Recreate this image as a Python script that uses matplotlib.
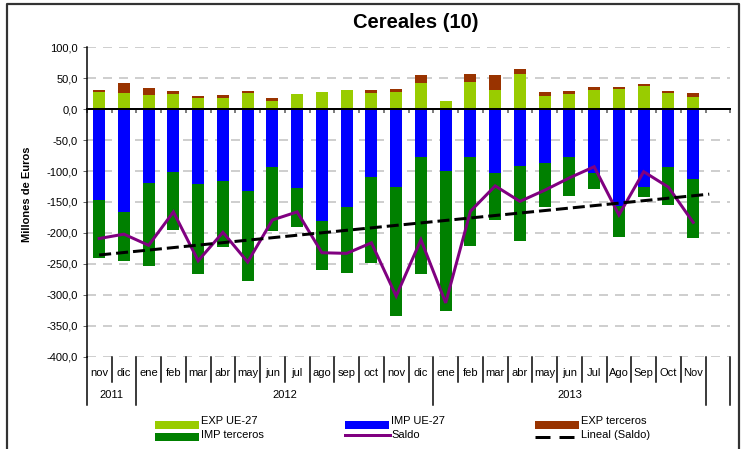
import matplotlib
matplotlib.use("Agg")
import matplotlib.pyplot as plt
import numpy as np
from matplotlib import transforms
from matplotlib.lines import Line2D
from matplotlib.patches import Rectangle
from matplotlib.ticker import FuncFormatter, FixedLocator

plt.rcParams['font.family'] = ['Liberation Sans', 'DejaVu Sans']
plt.rcParams['lines.scale_dashes'] = False

# ---- data (millones de euros) ----
months = ["nov", "dic", "ene", "feb", "mar", "abr", "may", "jun", "jul", "ago",
          "sep", "oct", "nov", "dic", "ene", "feb", "mar", "abr", "may", "jun",
          "Jul", "Ago", "Sep", "Oct", "Nov"]
years = ["2011", "2012", "2013"]
year_spans = [(0, 1), (2, 13), (14, 24)]

exp_ue27 = [27.9, 26.3, 23.0, 24.7, 18.2, 18.2, 26.3, 13.4, 24.7, 27.9, 31.1, 26.3,
            27.9, 42.4, 13.4, 44.0, 31.0, 57.0, 21.5, 24.7, 31.1, 32.7, 37.6, 26.3, 19.8]
exp_terceros = [3.1, 16.1, 11.4, 4.8, 3.3, 4.8, 3.2, 4.8, 0.0, 0.0, 0.0, 4.8,
                4.8, 12.9, 0.0, 13.0, 24.3, 8.0, 6.4, 4.8, 4.9, 3.3, 3.2, 3.2, 6.5]
imp_ue27 = [146.0, 165.6, 119.0, 101.0, 120.5, 115.6, 131.8, 93.0, 127.0, 180.0, 157.6, 109.0,
            125.0, 78.0, 100.6, 78.0, 102.7, 91.5, 86.6, 77.0, 102.7, 157.0, 126.4, 93.0, 113.5]
imp_terceros = [95.0, 80.4, 135.0, 95.0, 146.5, 107.4, 146.2, 104.0, 64.0, 80.0, 107.4, 140.0,
                209.5, 189.0, 225.4, 143.6, 77.0, 122.0, 72.1, 64.0, 25.8, 50.0, 16.1, 62.5, 95.2]
saldo = [-209, -202, -220, -166, -245, -199, -247, -179, -166, -232, -233, -216,
         -302, -211, -313, -165, -124, -149, -131, -111, -93, -171, -101, -126, -183]

C_EXP_UE = "#99CC00"
C_EXP_TER = "#993300"
C_IMP_UE = "#0000FF"
C_IMP_TER = "#008000"
C_SALDO = "#800080"

W, H = 742, 449
fig = plt.figure(figsize=(W / 100, H / 100), dpi=100)
px = lambda v: v * 72 / 100  # pixels -> points

ax_l, ax_r, ax_t, ax_b = 86.8, 730.3, 47.3, 356.7
ax = fig.add_axes([ax_l / W, 1 - ax_b / H, (ax_r - ax_l) / W, (ax_b - ax_t) / H])

x = np.arange(len(months))
bw = 0.48
eu = np.array(exp_ue27)
et = np.array(exp_terceros)
iu = -np.array(imp_ue27)
it = -np.array(imp_terceros)

ax.bar(x, eu, bw, color=C_EXP_UE, zorder=2)
ax.bar(x, et, bw, bottom=eu, color=C_EXP_TER, zorder=2)
ax.bar(x, iu, bw, color=C_IMP_UE, zorder=2)
ax.bar(x, it, bw, bottom=iu, color=C_IMP_TER, zorder=2)

ax.plot(x, saldo, color=C_SALDO, lw=px(3), zorder=4, solid_joinstyle='miter')

# linear trend of the balance
coef = np.polyfit(x, saldo, 1)
xt = np.array([0, len(months) - 1 + 0.65])
ax.plot(xt, np.polyval(coef, xt), color="black", lw=px(3),
        linestyle=(0, (px(12), px(5))), zorder=5)

ax.set_xlim(-0.5, len(months) + 0.5)
ax.set_ylim(-400, 100)
ax.set_yticks(np.arange(-400, 101, 50))
ax.yaxis.set_major_formatter(FuncFormatter(lambda v, p: f"{v:.1f}".replace(".", ",")))
ax.tick_params(axis='y', direction='out', length=px(4), width=px(1), color="#666666",
               pad=px(5), labelsize=8, labelcolor="black")
ax.grid(axis='y', color="#CFCFCF", lw=px(2), linestyle=(0, (px(9), px(7))), zorder=0)
ax.set_axisbelow(True)

for s in ("top", "right"):
    ax.spines[s].set_visible(False)
ax.spines["left"].set_linewidth(px(1.5))
ax.spines["bottom"].set_position(("data", 0))
ax.spines["bottom"].set_linewidth(px(2))
ax.spines["bottom"].set_zorder(3)
bounds = np.arange(-0.5, len(months) + 1.0, 1.0)
ax.xaxis.set_major_locator(FixedLocator(bounds))
ax.tick_params(axis='x', direction='out', length=px(4), width=px(1.5), color="#555555",
               labelbottom=False)

# category labels below the plot
bt = transforms.blended_transform_factory(ax.transData, fig.transFigure)
fy = lambda ypx: 1 - ypx / H
long_bounds = {0, 2, 14, len(months), len(months) + 1}
for i, b in enumerate(bounds):
    y_end = 404.5 if i in long_bounds else 381.7
    fig.add_artist(Line2D([b, b], [fy(356.7), fy(y_end)], transform=bt,
                          color="black", lw=px(1.5)))
for i, m in enumerate(months):
    fig.text(i, fy(372.7), m, transform=bt, ha="center", va="center", fontsize=8)
for yr, (a, b) in zip(years, year_spans):
    fig.text((a + b) / 2, fy(395), yr, transform=bt, ha="center", va="center", fontsize=8)

# title and axis label
fig.text(416 / W, fy(22), "Cereales (10)", ha="center", va="center",
         fontsize=14.5, fontweight="bold")
fig.text(27 / W, fy(194.5), "Millones de Euros", rotation=90, ha="center", va="center",
         fontsize=8, fontweight="bold")

# legend
def fx(xpx):
    return xpx / W

legend_rows = [
    [("patch", C_EXP_UE, "EXP UE-27", 155), ("patch", C_IMP_UE, "IMP UE-27", 345),
     ("patch", C_EXP_TER, "EXP terceros", 535)],
    [("patch", C_IMP_TER, "IMP terceros", 155), ("line", C_SALDO, "Saldo", 345),
     ("dash", "black", "Lineal (Saldo)", 535)],
]
row_y = [(425, 421.5), (437, 435.5)]
for row, (yc, yt) in zip(legend_rows, row_y):
    for kind, col, label, x0 in row:
        if kind == "patch":
            fig.add_artist(Rectangle((fx(x0), fy(yc + 4)), 44 / W, 8 / H,
                                     transform=fig.transFigure, color=col, lw=0))
        elif kind == "line":
            fig.add_artist(Line2D([fx(x0), fx(x0 + 45)], [fy(yc - 2), fy(yc - 2)],
                                  transform=fig.transFigure, color=col, lw=px(3)))
        else:
            fig.add_artist(Line2D([fx(x0), fx(x0 + 44)], [fy(yc - 0.5), fy(yc - 0.5)],
                                  transform=fig.transFigure, color=col, lw=px(3),
                                  linestyle=(0, (px(15), px(9)))))
        fig.text(fx(x0 + 46), fy(yt), label, ha="left", va="center", fontsize=8)

# outer frame (open at the bottom)
fig.add_artist(Line2D([fx(7), fx(7), fx(738.5), fx(738.5)],
                      [fy(452), fy(3.5), fy(3.5), fy(452)],
                      transform=fig.transFigure, color="#333333", lw=px(2.2)))

fig.savefig("out.png", dpi=100)
